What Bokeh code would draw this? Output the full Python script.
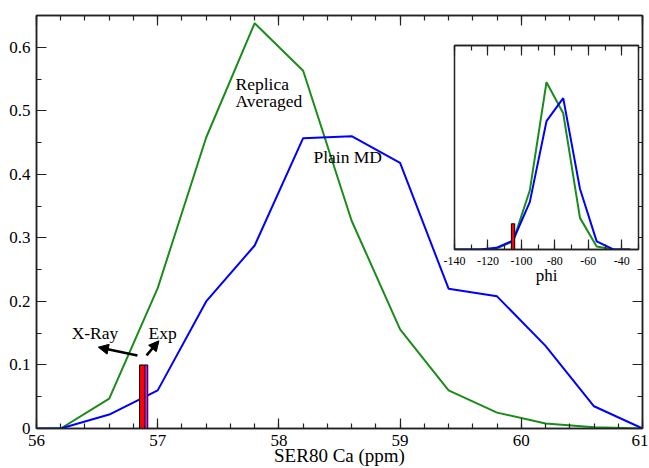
from bokeh.plotting import figure
from bokeh.models import (Range1d, FixedTicker, LinearAxis, Label, Arrow, NormalHead,
                          CustomJSTickFormatter)
from bokeh.embed import file_html
from bokeh.resources import INLINE

# ---- main panel data ----
shift = [56.0, 56.2, 56.6, 57.0, 57.4, 57.8, 58.2, 58.6, 59.0, 59.4, 59.8, 60.2, 60.6, 61.0]
replica = [0.0, 0.0, 0.047, 0.221, 0.458, 0.638, 0.563, 0.327, 0.156, 0.060, 0.025, 0.008, 0.002, 0.0]
plain = [0.0, 0.0, 0.022, 0.060, 0.200, 0.288, 0.457, 0.460, 0.418, 0.220, 0.208, 0.130, 0.035, 0.0]

xray_left = [56.850]
xray_right = [56.894]
exp_left = [56.894]
exp_right = [56.918]
marker_height = [0.1]

x_ticks = [56, 57, 58, 59, 60, 61]
x_tick_labels = ["56", "57", "58", "59", "60", "61"]
x_minor = [56 + 0.2 * i for i in range(26)]
y_ticks = [0.0, 0.1, 0.2, 0.3, 0.4, 0.5, 0.6]
y_tick_labels = ["0", "0.1", "0.2", "0.3", "0.4", "0.5", "0.6"]
y_minor = [0.05 * i for i in range(14)]
x_title = "SER80 Ca (ppm)"

# ---- inset data ----
phi = [-145, -135, -125, -115, -105, -95, -85, -75, -65, -55, -45, -35]
phi_replica = [0.0, 0.0, 0.0, 0.004, 0.040, 0.289, 0.820, 0.668, 0.155, 0.015, 0.0, 0.0]
phi_plain = [0.0, 0.0, 0.0, 0.008, 0.044, 0.232, 0.629, 0.742, 0.298, 0.040, 0.0, 0.0]
phi_xray_left = [-106.0]
phi_xray_right = [-104.0]
phi_marker_height = [0.126]
phi_ticks = [-140, -120, -100, -80, -60, -40]
phi_tick_labels = ["-140", "-120", "-100", "-80", "-60", "-40"]
phi_minor = [-140 + 10 * i for i in range(12)]

GREEN = "#1a8c1a"
BLUE = "#0000ff"
FONT = "Liberation Serif"
EDGE = "#222222"

JS = """
for (let i = 0; i < tvals.length; i++) {
    if (Math.abs(tvals[i] - tick) < 1e-9) { return tlabels[i]; }
}
return "";
"""

def fmt(tv, tl):
    return CustomJSTickFormatter(args=dict(tvals=tv, tlabels=tl), code=JS)

def style_axis(ax, ticker, formatter=None, font_size="17px", standoff=4):
    ax.ticker = ticker
    ax.major_tick_in = 10
    ax.major_tick_out = 0
    ax.minor_tick_in = 5
    ax.minor_tick_out = 0
    ax.major_tick_line_color = EDGE
    ax.minor_tick_line_color = EDGE
    ax.major_tick_line_width = 1.2
    ax.minor_tick_line_width = 1.2
    ax.axis_line_color = EDGE
    ax.axis_line_width = 1.5
    if formatter is not None:
        ax.formatter = formatter
        ax.major_label_text_font = FONT
        ax.major_label_text_font_size = font_size
        ax.major_label_text_color = "black"
        ax.major_label_standoff = standoff
    else:
        ax.formatter = fmt([], [])
        ax.major_label_standoff = 0

p = figure(frame_width=606, frame_height=413, output_backend="svg", toolbar_location=None,
           x_range=Range1d(56, 61), y_range=Range1d(0, 0.65),
           min_border_left=32, min_border_right=6, min_border_top=7, min_border_bottom=40,
           styles={"position": "absolute", "left": "4px", "top": "8px"})
p.xgrid.visible = False
p.ygrid.visible = False
p.outline_line_color = EDGE
p.outline_line_width = 1.5
p.background_fill_color = "white"

xt = FixedTicker(ticks=x_ticks, minor_ticks=x_minor)
yt = FixedTicker(ticks=y_ticks, minor_ticks=y_minor)

style_axis(p.xaxis[0], xt, fmt(x_ticks, x_tick_labels), "17px", 6)
style_axis(p.yaxis[0], yt, fmt(y_ticks, y_tick_labels), "17px", 6)
p.xaxis[0].axis_label = x_title
p.xaxis[0].axis_label_text_font = FONT
p.xaxis[0].axis_label_text_font_size = "19px"
p.xaxis[0].axis_label_text_font_style = "normal"
p.xaxis[0].axis_label_text_color = "black"
p.xaxis[0].axis_label_standoff = -4

top_ax = LinearAxis()
style_axis(top_ax, xt)
p.add_layout(top_ax, "above")
right_ax = LinearAxis()
style_axis(right_ax, yt)
p.add_layout(right_ax, "right")

p.line(shift, replica, line_color=GREEN, line_width=2)
p.line(shift, plain, line_color=BLUE, line_width=2)
p.quad(left=xray_left, right=xray_right, bottom=[0], top=marker_height,
       fill_color="red", line_color="black", line_width=1)
p.quad(left=exp_left, right=exp_right, bottom=[0], top=marker_height,
       fill_color="magenta", line_color="black", line_width=1)

def add_label(x, y, t):
    p.add_layout(Label(x=x, y=y, text=t, text_font=FONT, text_font_size="17.5px",
                       text_color="black", text_baseline="middle", text_align="left"))

add_label(57.642, 0.5416, "Replica")
add_label(57.642, 0.5148, "Averaged")
add_label(58.285, 0.428, "Plain MD")
add_label(56.29, 0.150, "X-Ray")
add_label(56.924, 0.150, "Exp")

p.add_layout(Arrow(x_start=56.833, y_start=0.115, x_end=56.51, y_end=0.128,
                   line_color="black", line_width=2.5,
                   end=NormalHead(size=10, fill_color="black", line_color="black")))
p.add_layout(Arrow(x_start=56.908, y_start=0.115, x_end=57.01, y_end=0.138,
                   line_color="black", line_width=2.5,
                   end=NormalHead(size=10, fill_color="black", line_color="black")))

# ---- inset ----
ins = figure(frame_width=184, frame_height=204, output_backend="svg", toolbar_location=None,
             x_range=Range1d(-140, -30), y_range=Range1d(0, 1),
             y_axis_location=None,
             min_border_left=14, min_border_right=6, min_border_top=5, min_border_bottom=42,
             styles={"position": "absolute", "left": "440px", "top": "40px"})
ins.xgrid.visible = False
ins.ygrid.visible = False
ins.border_fill_alpha = 0
ins.background_fill_color = "white"
ins.outline_line_color = EDGE
ins.outline_line_width = 1.5

pt = FixedTicker(ticks=phi_ticks, minor_ticks=phi_minor)
style_axis(ins.xaxis[0], pt, fmt(phi_ticks, phi_tick_labels), "12px", 7)
ins.xaxis[0].axis_label = "phi"
ins.xaxis[0].axis_label_text_font = FONT
ins.xaxis[0].axis_label_text_font_size = "17px"
ins.xaxis[0].axis_label_text_font_style = "normal"
ins.xaxis[0].axis_label_text_color = "black"
ins.xaxis[0].axis_label_standoff = -2
ins_top = LinearAxis()
style_axis(ins_top, pt)
ins.add_layout(ins_top, "above")

ins.line(phi, phi_replica, line_color=GREEN, line_width=2)
ins.line(phi, phi_plain, line_color=BLUE, line_width=2)
ins.quad(left=phi_xray_left, right=phi_xray_right, bottom=[0], top=phi_marker_height,
         fill_color="red", line_color="black", line_width=1)

open("out.html", "w").write(file_html([p, ins], INLINE))
